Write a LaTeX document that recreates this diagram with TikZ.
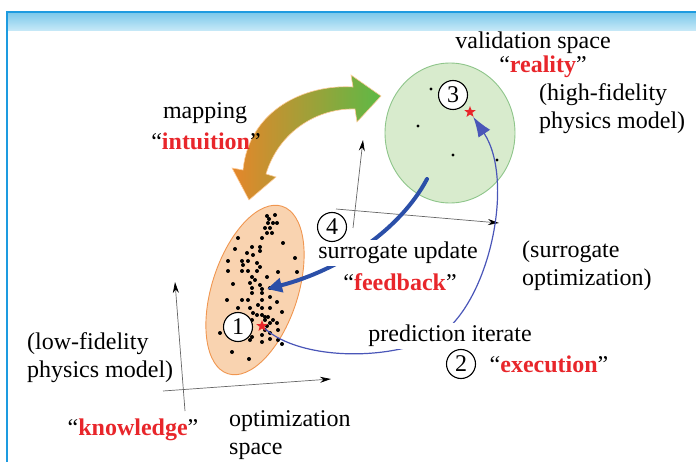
\documentclass[tikz,border=0pt]{standalone}
\usepackage{fontspec}
\setmainfont{Liberation Serif}
\usetikzlibrary{shapes.geometric,arrows.meta}
\definecolor{kred}{HTML}{E8262B}
\definecolor{frameblue}{HTML}{1D9BE0}
\definecolor{headtop}{HTML}{79C7EA}
\definecolor{headbot}{HTML}{C9EAF8}
\definecolor{ofill}{HTML}{F9D3B0}
\definecolor{oedge}{HTML}{F09650}
\definecolor{gfill}{HTML}{D8EBCD}
\definecolor{gedge}{HTML}{8EC58A}
\definecolor{morange}{HTML}{E5862A}
\definecolor{mgreen}{HTML}{5DB946}
\definecolor{fbblue}{HTML}{2B4FA8}
\definecolor{arcblue}{HTML}{4A56B8}
\newcommand{\redbf}[1]{\textcolor{kred}{\textbf{#1}}}
\tikzset{
  lbl/.style={inner sep=1pt},
  wlbl/.style={inner sep=2pt, fill=white},
  numcirc/.style={circle, draw, fill=white, line width=1.1pt, inner sep=0pt, minimum size=29pt},
  rstar/.style={star, star points=5, star point ratio=2.4, fill=kred, minimum size=12pt, inner sep=0pt},
  axis/.style={draw=black!60, line width=0.7pt, -{Stealth[length=11pt,width=6pt,color=black,fill=black]}},
  dot/.style={fill=black}
}
\begin{document}
\begin{tikzpicture}[x=1pt,y=-1pt, font=\fontsize{24}{28}\selectfont]
\useasboundingbox (0,0) rectangle (696,462);
% frame
\shade[top color=headtop, bottom color=headbot] (7,12) rectangle (696,31);
\draw[frameblue, line width=1.6pt] (7,462) -- (7,12) -- (696,12);

% axes
\coordinate (la0) at (185,411); \coordinate (la1) at (175,282);
\coordinate (lb0) at (163,391); \coordinate (lb1) at (331,379);
\coordinate (ua0) at (353,228); \coordinate (ua1) at (363,140);
\coordinate (ub0) at (336,209); \coordinate (ub1) at (499,223);
\draw[axis] (la0) -- (la1);
\draw[axis] (lb0) -- (lb1);
\draw[axis] (ua0) -- (ua1);
\draw[axis] (ub0) -- (ub1);

% ellipses
\draw[draw=oedge, fill=ofill, line width=0.9pt, rotate around={72:(255,290)}] (255,290) ellipse [x radius=88, y radius=43];
\draw[draw=gedge, fill=gfill, line width=0.9pt] (450,133) ellipse [x radius=65, y radius=70];

% dots
\foreach \x/\y in {267/216,275/215,269/219,268/223,273/223,277/223,270/228,265/228,272/233,267/233,
238/238,262/238,283/243,252/247,260/247,235/249,260/251,247/253,253/255,295/258,228/261,242/261,
248/261,243/265,257/263,260/267,228/271,242/271,248/271,257/271,278/272,297/272,252/277,267/277,
233/284,255/280,250/283,260/285,252/288,262/289,270/288,262/293,252/293,227/300,242/300,248/300,
262/300,270/297,277/302,258/305,238/308,250/308,262/308,270/308,282/312,253/313,257/315,262/315,
265/317,268/317,265/320,273/320,252/320,270/323,277/323,267/326,265/330,278/330,270/333,262/335,
220/333,252/337,278/340,262/342,232/352,249/359,282/344,250/340,270/339}
  {\fill[dot] (\x,\y) circle (2);}
\foreach \x/\y in {431/89,418/126,453/155,497/160}
  {\fill[dot] (\x,\y) circle (1.7);}

% stars
\node[rstar] (s1) at (262,326) {};
\node[rstar] (s3) at (470,112) {};

% mapping double arrow
\shade[left color=morange, right color=mgreen, draw=orange!40, line width=0.6pt]
  (243,170) .. controls (249,110) and (305,84) .. (353,87)
  -- (351,75) -- (381,96) -- (357,122)
  -- (355,109) .. controls (318,108) and (279,131) .. (266,174)
  -- (276,177) -- (249,200) -- (232,168) -- cycle;

% feedback thick arrow
\coordinate (fb0) at (427,179);
\coordinate (fbt) at (267,289);
\draw[fbblue, line width=4pt, line cap=round, -{Triangle[length=15pt,width=14pt]}]
  (fb0) .. controls (400,230) and (340,270) .. (fbt);

% prediction arc
\draw[arcblue, line width=1.2pt, -{Latex[length=20pt,width=14pt]}]
  (s1) .. controls (300,360) and (390,362) .. (440,335)
  .. controls (490,300) and (515,180) .. (s3);

% labels
\node[lbl] (t1) at (533,43) {validation space};
\node[lbl] (t2) at (543,67) {“\redbf{reality}”};
\node[lbl, anchor=west, align=left] (t3) at (538,109) {(high-fidelity\\physics model)};
\node[lbl] (t4) at (205,113) {mapping};
\node[lbl] (t5) at (206,141) {“\redbf{intuition}”};
\node[wlbl] (t6) at (398,253) {surrogate update};
\node[lbl] (t7) at (400,282) {“\redbf{feedback}”};
\node[lbl, anchor=west, align=left] (t8) at (521,266) {(surrogate\\optimization)};
\node[wlbl] (t9) at (450,336) {prediction iterate};
\node[lbl] (t10) at (549,364) {“\redbf{execution}”};
\node[lbl, anchor=west, align=left] (t11) at (26,358) {(low-fidelity\\physics model)};
\node[lbl] (t12) at (133,430) {“\redbf{knowledge}”};
\node[lbl, anchor=west, align=left] (t13) at (228,435) {optimization\\space};

% numbered circles
\node[numcirc] (c1) at (238,327) {1};
\node[numcirc] (c2) at (461,364) {2};
\node[numcirc] (c3) at (453,95) {3};
\node[numcirc] (c4) at (332,227) {4};
\end{tikzpicture}
\end{document}
